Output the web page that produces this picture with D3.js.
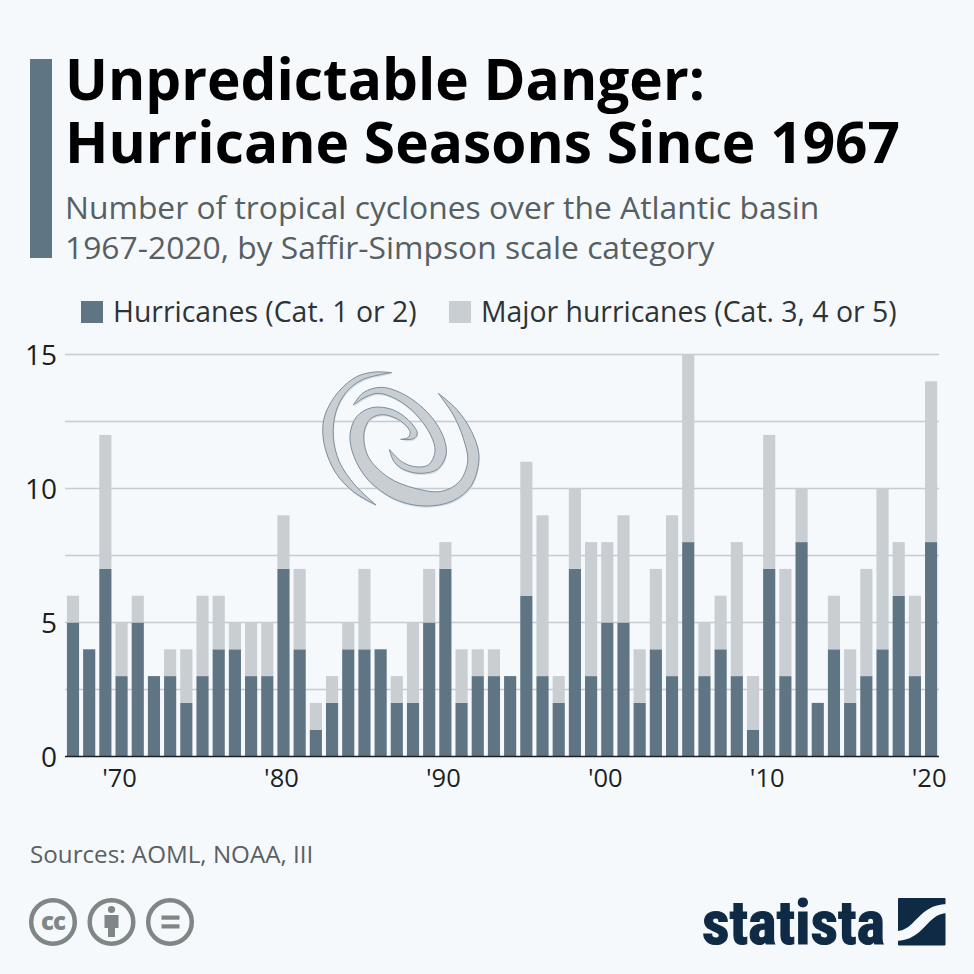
<!DOCTYPE html>
<html><head><meta charset="utf-8">
<script src="https://cdn.jsdelivr.net/npm/d3@7"></script>
<style>html,body{margin:0;padding:0;background:#f5f9fc}svg{display:block}text{font-family:"Open Sans",sans-serif}</style>
</head><body><svg id="c" width="974" height="974"></svg>
<script>
const titleLines = ["Unpredictable Danger:", "Hurricane Seasons Since 1967"];
const subtitleLines = ["Number of tropical cyclones over the Atlantic basin", "1967-2020, by Saffir-Simpson scale category"];
const legendLabels = ["Hurricanes (Cat. 1 or 2)", "Major hurricanes (Cat. 3, 4 or 5)"];
const source = "Sources: AOML, NOAA, III";
const years = d3.range(1967, 2021);
const hurricanes = [5,4,7,3,5,3,3,2,3,4,4,3,3,7,4,1,2,4,4,4,2,2,5,7,2,3,3,3,6,3,2,7,3,5,5,2,4,3,8,3,4,3,1,7,3,8,2,4,2,3,4,6,3,8];
const majors =     [1,0,5,2,1,0,1,2,3,2,1,2,2,2,3,1,1,1,3,0,1,3,2,1,2,1,1,0,5,6,1,3,5,3,4,2,3,6,7,2,2,5,2,5,4,2,0,2,2,4,6,2,3,6];
const gridValues = [0,2.5,5,7.5,10,12.5,15];
const yTickValues = [0,5,10,15];
const xTickYears = [1970,1980,1990,2000,2010,2020];
const colors = {bg:"#f5f9fc", h:"#5f7583", m:"#c8ced2", grid:"#c6ccd0", text:"#1c1f22", sub:"#575f63", src:"#5a6064", icon:"#7f8686", logo:"#0f2a45"};

const svg = d3.select("#c");
svg.append("rect").attr("width",974).attr("height",974).attr("fill",colors.bg);

// header
svg.append("rect").attr("x",30).attr("y",59).attr("width",22).attr("height",199).attr("fill",colors.h);
svg.selectAll(".t").data(titleLines).join("text").attr("x",65).attr("y",(d,i)=>100+i*63)
  .attr("font-size",56.8).attr("font-weight",700).attr("fill","#000").text(d=>d);
svg.selectAll(".s").data(subtitleLines).join("text").attr("x",65).attr("y",(d,i)=>219+i*40)
  .attr("font-size",31.8).attr("fill",colors.sub).text(d=>d);

// legend
const legX=[81,449], legTX=[113,481];
legendLabels.forEach((l,i)=>{
  svg.append("rect").attr("x",legX[i]).attr("y",301).attr("width",22).attr("height",22).attr("fill",i?colors.m:colors.h);
  svg.append("text").attr("x",legTX[i]).attr("y",322).attr("font-size",28.4).attr("fill","#2e3336").text(l);
});

// scales
const x = d3.scaleBand().domain(years).range([64.9,939.2]).paddingInner(0.25).paddingOuter(0.125);
const y = d3.scaleLinear().domain([0,15]).range([756.5,354.5]);

// gridlines
svg.append("g").selectAll("line").data(gridValues.filter(v=>v>0)).join("line")
  .attr("x1",65).attr("x2",939).attr("y1",d=>y(d)).attr("y2",d=>y(d))
  .attr("stroke",colors.grid).attr("stroke-width",1.5);

// swirl decoration: each arm is an outer edge and an inner edge between two sharp tips
const arms = [
 {o:[[275,68],[225,66],[170,80],[110,132],[72,205],[72,280],[105,365],[160,425],[228,465]],
  i:[[228,465],[165,405],[118,335],[100,260],[108,185],[140,125],[190,88],[275,68]]},
 {o:[[415,130],[470,178],[515,245],[537,320],[515,405],[460,452],[375,468],[285,448],[205,390],[162,320],[150,255],[170,200],[215,173],[275,178],[325,210],[352,250],[340,266],[302,268]],
  i:[[302,268],[325,262],[330,245],[300,212],[250,194],[212,206],[192,250],[205,320],[265,382],[345,415],[425,424],[478,395],[503,335],[490,265],[460,195],[415,130]]},
 {o:[[160,165],[190,128],[245,112],[315,135],[385,190],[430,260],[438,315],[412,358],[360,370],[310,358],[282,335],[268,298]],
  i:[[268,298],[305,335],[345,350],[385,345],[405,305],[392,255],[345,190],[290,148],[235,130],[195,142],[160,165]]}
];
const edge = d3.line().curve(d3.curveCatmullRom.alpha(0.5));
const armPath = a => edge(a.o) + edge(a.i).replace(/^M/,"L") + "Z";
const swirl = svg.append("g").attr("transform","translate(300,350) scale(0.3333)");
swirl.selectAll("path.sh").data(arms).join("path").attr("class","sh").attr("d",armPath)
  .attr("transform","translate(2,5)").attr("fill","#d5dbdf");
swirl.selectAll("path.a").data(arms).join("path").attr("class","a").attr("d",armPath)
  .attr("fill","#c8ced2").attr("stroke","#74889a").attr("stroke-width",2.8).attr("stroke-linejoin","miter");

// stacked bars
const rows = years.map((yr,i)=>({year:yr,h:hurricanes[i],m:majors[i]}));
const stack = d3.stack().keys(["h","m"])(rows);
svg.append("g").selectAll("g").data(stack).join("g").attr("fill",(d,i)=>i?colors.m:colors.h)
  .selectAll("rect").data(d=>d).join("rect")
  .attr("x",d=>x(d.data.year)).attr("width",x.bandwidth())
  .attr("y",d=>y(d[1])).attr("height",d=>y(d[0])-y(d[1]));

// baseline
svg.append("line").attr("x1",65).attr("x2",939).attr("y1",y(0)).attr("y2",y(0)).attr("stroke","#1c1f22").attr("stroke-width",1.5);

// axes
const yAxis = d3.axisLeft(y).tickValues(yTickValues).tickSize(0).tickPadding(0);
const gy = svg.append("g").attr("transform","translate(57,0)").call(yAxis);
gy.select(".domain").remove();
gy.selectAll("text").attr("font-size",28).attr("fill",colors.text).style("font-family",'"Open Sans"').attr("dy","0.36em");

const xAxis = d3.axisBottom(x).tickValues(xTickYears).tickSize(0).tickPadding(0).tickFormat(d=>"'"+String(d).slice(2));
const gx = svg.append("g").attr("transform","translate(-2,763)").call(xAxis);
gx.select(".domain").remove();
gx.selectAll("text").attr("font-size",25.5).attr("fill",colors.text).style("font-family",'"Open Sans"').attr("dy","0.95em");

// source
svg.append("text").attr("x",30).attr("y",863).attr("font-size",24.2).attr("fill",colors.src).text(source);

// CC icons
const ic = svg.append("g").attr("fill","none").attr("stroke",colors.icon).attr("stroke-width",4.5);
[53,111.5,170].forEach(cx=>ic.append("circle").attr("cx",cx).attr("cy",922).attr("r",21.8));
svg.append("text").attr("x",53).attr("y",930).attr("text-anchor","middle").attr("font-size",24).attr("font-weight",800)
  .attr("letter-spacing",-1).attr("fill",colors.icon).text("cc");
const f = svg.append("g").attr("fill",colors.icon);
f.append("circle").attr("cx",111.5).attr("cy",909.5).attr("r",3.6);
f.append("path").attr("d","M104.5 915h14v13h-3.5v9h-7v-9h-3.5z");
f.append("rect").attr("x",161.5).attr("y",915.5).attr("width",18).attr("height",4.2);
f.append("rect").attr("x",161.5).attr("y",924.3).attr("width",18).attr("height",4.2);

// statista logo
svg.append("text").attr("x",702).attr("y",944).attr("font-size",62).attr("font-weight",700)
  .style("font-family",'"Liberation Sans Narrow","Roboto Condensed",Roboto,sans-serif')
  .attr("textLength",183).attr("lengthAdjust","spacingAndGlyphs").attr("stroke",colors.logo).attr("stroke-width",1.2)
  .attr("fill",colors.logo).text("statista");
svg.append("rect").attr("x",898).attr("y",898).attr("width",47.5).attr("height",47.5).attr("rx",1).attr("fill",colors.logo);
svg.append("path").attr("d","M896 931 C916 931 917 905 947 904 L947 913 C926 914 925 940 896 941 Z").attr("fill",colors.bg);
</script></body></html>
